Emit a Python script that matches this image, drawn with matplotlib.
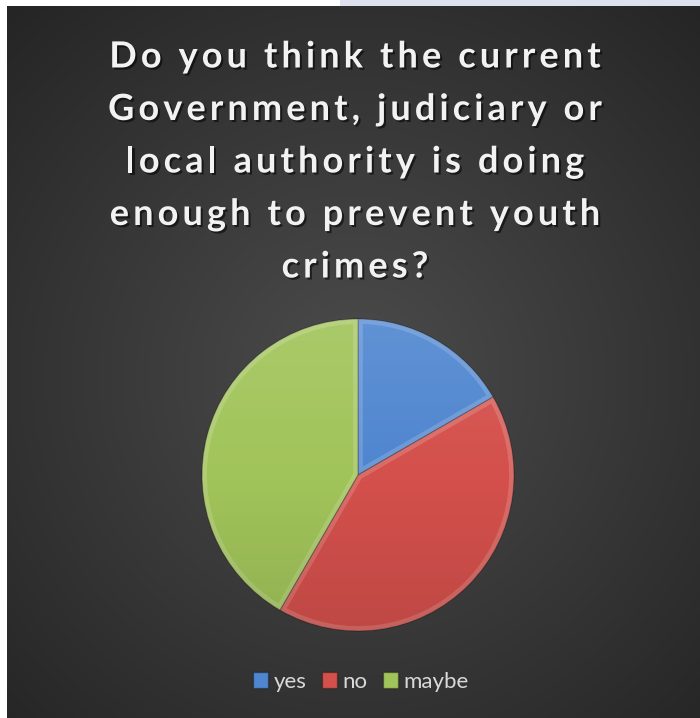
import numpy as np
import matplotlib
matplotlib.use("Agg")
import matplotlib.pyplot as plt
from matplotlib.patches import Patch, Rectangle, Circle, Wedge
import matplotlib.patheffects as pe
from matplotlib import font_manager
from matplotlib.ft2font import FT2Font

# Survey answers
labels = ["yes", "no", "maybe"]
counts = [2, 5, 5]
colors = ["#4f86d0", "#d4504c", "#a1c45a"]

title_lines = ["Do you think the current",
               "Government, judiciary or",
               "local authority is doing",
               "enough to prevent youth",
               "crimes?"]

W, H = 700, 718
DPI = 100
fig = plt.figure(figsize=(W / DPI, H / DPI), dpi=DPI, facecolor="white")

# Thin light strip along the top edge
fig.patches.append(Rectangle((340 / W, 1 - 6 / H), 360 / W, 6 / H,
                             transform=fig.transFigure, facecolor="#dde0ee",
                             edgecolor="none", zorder=0))

# Dark chart area with a soft radial gradient
bg = fig.add_axes([7 / W, 0, 693 / W, 712 / H])
bg.set_axis_off()
yy, xx = np.mgrid[0:712, 0:693]
cx, cy = 350, 370
r = np.sqrt((xx - cx) ** 2 + (yy - cy) ** 2) / 520
light = np.array([0x4c, 0x4c, 0x4c]) / 255
dark = np.array([0x24, 0x24, 0x24]) / 255
t = np.clip(r, 0, 1)[..., None]
img = light * (1 - t) + dark * t
bg.imshow(img, extent=[0, 1, 0, 1], aspect="auto", origin="upper")
bg.set_xlim(0, 1)
bg.set_ylim(0, 1)

# Title, drawn character by character with extra letter spacing
title_fp = font_manager.FontProperties(family="Lato", weight="bold", size=26)
font = FT2Font(font_manager.findfont(title_fp))
font.set_size(title_fp.get_size_in_points(), DPI)


def advance(ch):
    g = font.load_char(ord(ch))
    return g.linearHoriAdvance / 65536.0


tracking = 4.1      # extra pixels between letters
line_gap = 52.5     # pixels between lines
first_center = 54   # pixel row of first line centre (from top)
title_cx = 355      # pixel column of the title centre
shadow = [pe.withSimplePatchShadow(offset=(1.5, -1.5), shadow_rgbFace="black", alpha=0.55)]
for i, line in enumerate(title_lines):
    widths = [advance(c) + tracking for c in line]
    total = sum(widths) - tracking
    x = title_cx - total / 2
    yc = H - (first_center + i * line_gap)
    for c, w in zip(line, widths):
        if c != " ":
            fig.text(x / W, yc / H, c, ha="left", va="center_baseline", color="#f2f2f2",
                     fontproperties=title_fp, path_effects=shadow)
        x += w

# Pie
pcx, pcy, pr = 358, 475, 156
lim = 1.02
ax = fig.add_axes([(pcx - pr * lim) / W, (H - pcy - pr * lim) / H,
                   2 * pr * lim / W, 2 * pr * lim / H])
wedges, _ = ax.pie(counts, colors=colors, startangle=90, counterclock=False,
                   radius=1, wedgeprops=dict(edgecolor=(0, 0, 0, 0.35), linewidth=0.8))
ax.set_xlim(-lim, lim)
ax.set_ylim(-lim, lim)
ax.set_aspect("equal")

# Soft bevel: a light rim just inside each slice
for w in wedges:
    rim = Wedge(w.center, w.r, w.theta1, w.theta2, facecolor="none",
                edgecolor=(1, 1, 1, 0.16), linewidth=7, zorder=2.5)
    ax.add_patch(rim)
    rim.set_clip_path(w)

# Lighting overlay: brighter top, darker bottom
gy = np.linspace(1, -1, 200)[:, None] * np.ones((1, 200))
shade = np.zeros((200, 200, 4))
shade[..., :3] = np.where(gy[..., None] > 0, 1.0, 0.0)
shade[..., 3] = np.abs(gy) * 0.10
im = ax.imshow(shade, extent=[-1, 1, -1, 1], zorder=3)
im.set_clip_path(Circle((0, 0), 1, transform=ax.transData))

# Legend
handles = [Patch(facecolor=c, edgecolor=(0, 0, 0, 0.3), label=l) for c, l in zip(colors, labels)]
leg = fig.legend(handles=handles, loc="center", bbox_to_anchor=(361 / W, 1 - 682 / H),
                 ncol=3, frameon=False, handlelength=0.68, handleheight=0.7,
                 handletextpad=0.25, columnspacing=0.7, prop={"family": "Lato", "size": 16})
for txt in leg.get_texts():
    txt.set_color("#d9d9d9")

fig.savefig("out.png", dpi=DPI, facecolor="white")
